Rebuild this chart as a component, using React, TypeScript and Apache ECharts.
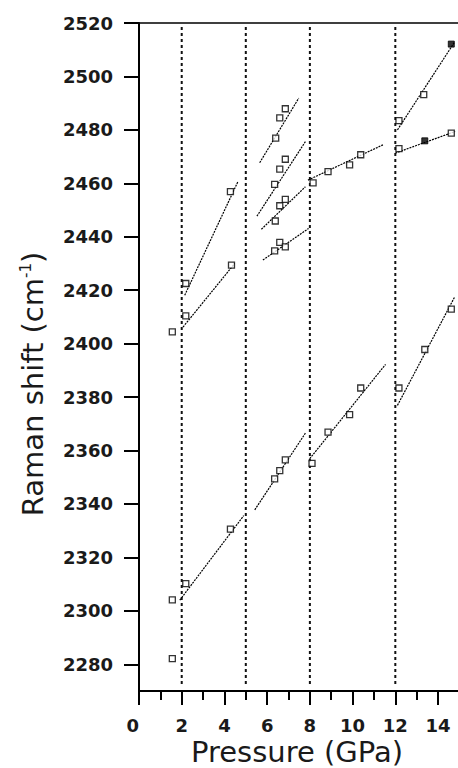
import React, { useEffect, useRef } from "react";
import * as echarts from "echarts";

// Axis ticks
const xMajorTicks = [0, 2, 4, 6, 8, 10, 12, 14];
const xMinorTicks = [1, 3, 5, 7, 9, 11, 13];
const yTicks = [2280, 2300, 2320, 2340, 2360, 2380, 2400, 2420, 2440, 2460, 2480, 2500, 2520];

// Axis titles
const xTitle = "Pressure (GPa)";
const yTitle = "Raman shift (cm{sup|-1})";

// Phase boundaries (dotted vertical lines), GPa
const phaseBoundaries = [2, 5, 8, 12];

// Measured Raman peaks (open squares): [pressure GPa, shift cm-1]
const openPoints: [number, number][] = [
  [12.17, 2483.5], [13.33, 2493.2],
  [12.17, 2473.0], [14.62, 2478.8],
  [8.15, 2460.2], [8.85, 2464.4], [9.86, 2466.9], [10.38, 2470.7],
  [6.40, 2476.9], [6.59, 2484.5], [6.85, 2487.9],
  [6.35, 2459.6], [6.59, 2465.3], [6.85, 2469.0],
  [6.38, 2445.9], [6.59, 2451.6], [6.85, 2454.0],
  [6.35, 2434.7], [6.59, 2437.9], [6.85, 2436.2],
  [2.19, 2422.5], [4.28, 2456.9],
  [2.19, 2410.4], [4.33, 2429.4],
  [1.56, 2404.4],
  [12.17, 2383.4], [13.38, 2397.8], [14.62, 2412.9],
  [8.10, 2355.2], [8.85, 2366.9], [9.86, 2373.4], [10.38, 2383.4],
  [6.35, 2349.4], [6.59, 2352.5], [6.85, 2356.5],
  [2.19, 2310.2], [4.28, 2330.6],
  [1.56, 2304.1], [1.56, 2282.1],
];

// Filled squares
const filledPoints: [number, number][] = [
  [14.62, 2512.1],
  [13.38, 2475.9],
];

// Linear fits: [x1, y1, x2, y2]
const fitSegments: [number, number, number, number][] = [
  [12.1, 2480.0, 14.76, 2512.7],
  [12.0, 2471.3, 14.8, 2479.4],
  [7.91, 2461.2, 11.42, 2474.4],
  [5.65, 2467.7, 7.48, 2491.9],
  [5.52, 2447.7, 7.79, 2475.6],
  [5.73, 2442.8, 7.79, 2458.7],
  [5.8, 2431.3, 7.94, 2443.1],
  [2.14, 2418.1, 4.63, 2460.6],
  [2.06, 2406.2, 4.48, 2430.0],
  [12.1, 2376.9, 14.78, 2417.5],
  [7.99, 2356.9, 11.54, 2392.2],
  [5.42, 2337.8, 7.79, 2366.5],
  [1.91, 2304.0, 4.9, 2335.6],
];

const boundaryRange: [number, number] = [2272.6, 2518.6];

const FONT = "DejaVu Sans";
const TEXT = "#1a1a1a";

export default function App() {
  const ref = useRef<HTMLDivElement>(null);

  useEffect(() => {
    if (!ref.current) return;
    const chart = echarts.init(ref.current, null, { renderer: "svg" });

    const series: any[] = [];
    phaseBoundaries.forEach((x) => {
      series.push({
        type: "line",
        data: [[x, boundaryRange[0]], [x, boundaryRange[1]]],
        symbol: "none",
        silent: true,
        z: 1,
        lineStyle: { color: "#111", width: 2, type: [3, 3] },
      });
    });
    fitSegments.forEach((s) => {
      series.push({
        type: "line",
        data: [[s[0], s[1]], [s[2], s[3]]],
        symbol: "none",
        silent: true,
        z: 2,
        lineStyle: { color: "#000", width: 1.2, type: [2, 1] },
      });
    });
    series.push({
      type: "scatter",
      data: openPoints,
      symbol: "rect",
      symbolSize: 6,
      z: 3,
      itemStyle: { color: "#fff", borderColor: "#000", borderWidth: 1.3 },
    });
    series.push({
      type: "scatter",
      data: filledPoints,
      symbol: "rect",
      symbolSize: 6,
      z: 3,
      itemStyle: { color: "#000", borderColor: "#000", borderWidth: 1 },
    });

    const plain = (v: number) => String(v);

    chart.setOption({
      animation: false,
      backgroundColor: "#fff",
      grid: {
        left: 139,
        top: 23,
        width: 320.4,
        height: 668,
        show: true,
        borderColor: "#000",
        borderWidth: 1.5,
        backgroundColor: "transparent",
        containLabel: false,
        outerBoundsMode: "none",
      },
      graphic: [
        {
          type: "text",
          x: 297,
          y: 752,
          style: {
            text: xTitle,
            fontFamily: FONT,
            fontSize: 29,
            fill: TEXT,
            align: "center",
            verticalAlign: "middle",
          },
        },
        {
          type: "text",
          x: 33,
          y: 384,
          rotation: Math.PI / 2,
          style: {
            text: yTitle,
            fontFamily: FONT,
            fontSize: 29,
            fill: TEXT,
            align: "center",
            verticalAlign: "middle",
            rich: {
              sup: { fontFamily: FONT, fontSize: 15, fill: TEXT, verticalAlign: "top", padding: [0, 0, 12, 0] },
            },
          },
        },
      ],
      xAxis: [
        {
          type: "value",
          min: 0,
          max: 15,
          position: "bottom",
          axisLine: { show: true, onZero: false, lineStyle: { color: "#000", width: 2 } },
          axisTick: { show: true, length: 14, customValues: xMajorTicks, lineStyle: { color: "#000", width: 2 } },
          axisLabel: {
            show: true,
            customValues: xMajorTicks,
            formatter: plain,
            alignMinLabel: "right",
            margin: 25,
            fontFamily: FONT,
            fontWeight: "bold",
            fontSize: 18,
            color: TEXT,
          },
          splitLine: { show: false },
        },
        {
          type: "value",
          min: 0,
          max: 15,
          position: "bottom",
          offset: 0,
          axisLine: { show: false },
          axisTick: { show: true, length: 9, customValues: xMinorTicks, lineStyle: { color: "#000", width: 2 } },
          axisLabel: { show: false },
          splitLine: { show: false },
        },
      ],
      yAxis: {
        type: "value",
        min: 2270,
        max: 2520,
        axisLine: { show: true, onZero: false, lineStyle: { color: "#000", width: 2 } },
        axisTick: { show: true, length: 15, customValues: yTicks, lineStyle: { color: "#000", width: 2 } },
        axisLabel: {
          show: true,
          customValues: yTicks,
          formatter: plain,
          margin: 26,
          fontFamily: FONT,
          fontWeight: "bold",
          fontSize: 18,
          color: TEXT,
        },
        splitLine: { show: false },
      },
      series,
    });

    return () => chart.dispose();
  }, []);

  return (
    <div
      ref={ref}
      style={{ position: "fixed", left: 0, top: 0, width: 458, height: 768, background: "#fff" }}
    />
  );
}
